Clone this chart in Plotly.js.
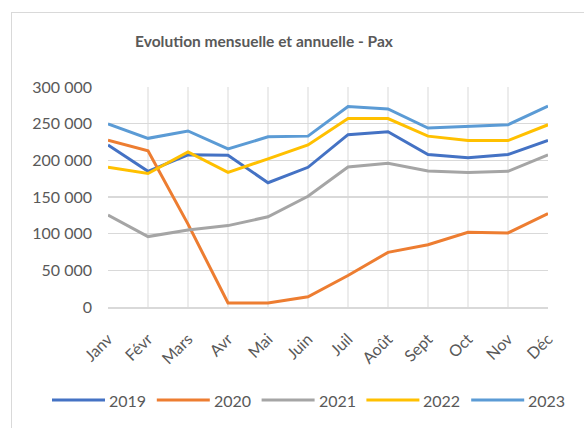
<!DOCTYPE html>
<html><head><meta charset="utf-8">
<script src="https://cdn.plot.ly/plotly-3.0.1.min.js"></script>
<style>
html,body{margin:0;padding:0;background:#fff;}
#wrap{position:relative;width:584px;height:428px;overflow:hidden;}
#chart{position:absolute;left:0;top:0;width:584px;height:428px;}
#frame{position:absolute;left:11px;top:12px;width:620px;height:460px;border:1px solid #d9d9d9;pointer-events:none;}
</style></head>
<body><div id="wrap"><div id="chart"></div><div id="frame"></div></div>
<script>
const months = ["Janv","Févr","Mars","Avr","Mai","Juin","Juil","Août","Sept","Oct","Nov","Déc"];
const years = ["2019","2020","2021","2022","2023"];
const pax2019 = [221000,185000,207500,207000,169500,190500,235000,239000,208000,203500,208000,227000];
const pax2020 = [227500,213000,113000,5500,5500,14000,43000,74500,85000,102000,101000,127500];
const pax2021 = [125500,96000,105000,111000,123000,151000,191000,196000,185500,183500,185000,207500];
const pax2022 = [190500,182000,211500,183500,202000,221000,257000,257000,233000,227000,227000,248500];
const pax2023 = [249500,230000,240000,215500,232000,233000,273500,270000,244000,246000,248500,274000];
const series = [pax2019,pax2020,pax2021,pax2022,pax2023];
const colors = ["#4472C4","#ED7D31","#A5A5A5","#FFC000","#5B9BD5"];

const traces = series.map((s,i)=>({
  x: months, y: s, name: years[i], type:'scatter', mode:'lines',
  line:{color:colors[i], width:3}, hoverinfo:'skip'
}));

const FONT = 'Lato, sans-serif';
// custom legend (long line swatches like the original)
const L=108, W=440, T=87, H=220;
const px2x = p => (p-L)/W, py2y = p => (T+H-p)/H;
const shapes=[], annotations=[];
years.forEach((yr,i)=>{
  const x0 = 52 + i*104.8;
  shapes.push({type:'line', xref:'paper', yref:'paper', x0:px2x(x0), x1:px2x(x0+53), y0:py2y(400), y1:py2y(400), line:{color:colors[i], width:3}});
  annotations.push({xref:'paper', yref:'paper', x:px2x(x0+55), y:py2y(400), xanchor:'left', yanchor:'middle', text:yr, showarrow:false, font:{family:FONT, size:16, color:'#595959'}});
});

const layout = {
  width:584, height:428,
  margin:{l:L, r:584-L-W, t:T, b:428-T-H},
  paper_bgcolor:'rgba(0,0,0,0)', plot_bgcolor:'#fff',
  separators:', ',
  showlegend:false,
  title:{text:'<b>Evolution mensuelle et annuelle - Pax</b>', x:264/584, xanchor:'center', y:1-42/428, yanchor:'middle', font:{family:FONT, size:15.5, color:'#595959'}},
  xaxis:{type:'category', range:[0,11], showgrid:true, gridcolor:'#ececec', gridwidth:1.5, tickangle:-45, ticks:'', ticklabelstandoff:15, showline:true, linecolor:'#d9d9d9', linewidth:1.5, tickfont:{family:FONT, size:16, color:'#595959'}, zeroline:false, fixedrange:true},
  yaxis:{range:[0,300000], dtick:50000, tickformat:',d', showgrid:true, gridcolor:'#d9d9d9', gridwidth:1.5, zeroline:false, showline:false, ticks:'', ticklabelstandoff:15, tickfont:{family:FONT, size:16, color:'#595959'}, fixedrange:true},
  shapes:shapes, annotations:annotations
};
Plotly.newPlot('chart', traces, layout, {displayModeBar:false, staticPlot:true});
</script></body></html>
